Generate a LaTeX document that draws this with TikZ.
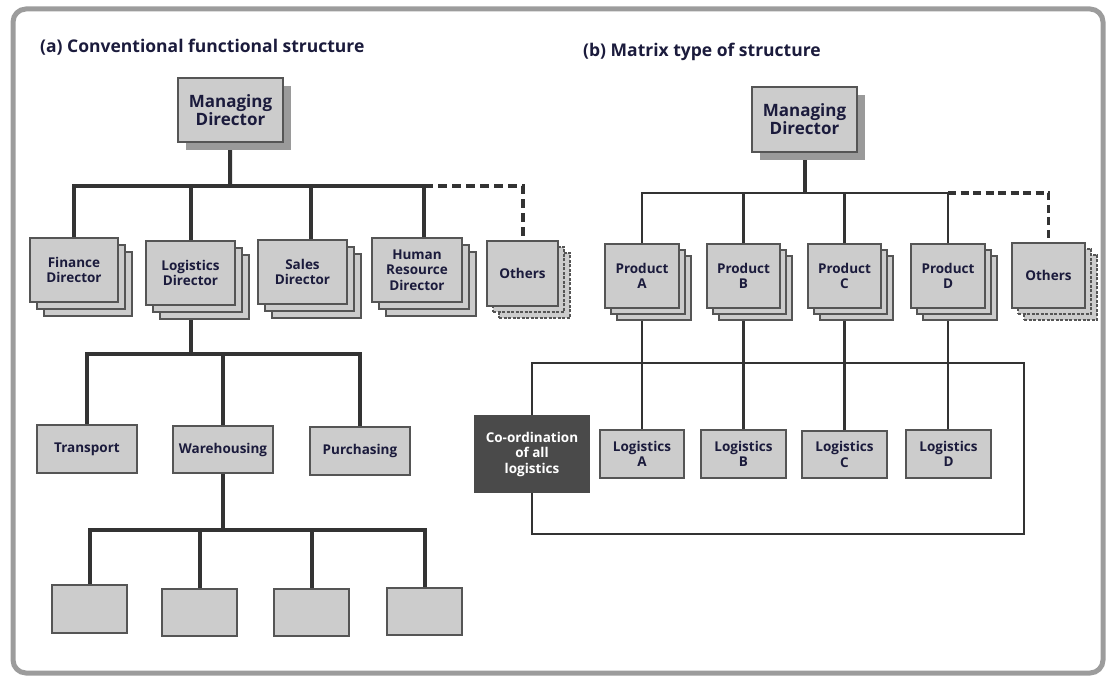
\documentclass[tikz,border=0pt]{standalone}
\usepackage{fontspec}
\setmainfont{Open Sans}
\usetikzlibrary{backgrounds}

\definecolor{boxfill}{HTML}{CCCCCC}
\definecolor{boxline}{HTML}{555555}
\definecolor{wire}{HTML}{333333}
\definecolor{ink}{HTML}{1B1B3C}
\definecolor{shade}{HTML}{9A9A9A}
\definecolor{darkbox}{HTML}{4A4A4A}
\definecolor{framegray}{HTML}{9C9C9C}

\tikzset{
  card/.style={draw=boxline, fill=boxfill, line width=1.1pt, inner sep=0pt,
    align=center, text=ink, font=\bfseries\fontsize{13.5}{15.5}\selectfont},
  ghostcard/.style={card, dashed, dash pattern=on 3pt off 1.5pt},
  bigcard/.style={card, font=\bfseries\fontsize{17}{15.5}\selectfont},
  darkcard/.style={card, fill=darkbox, draw=darkbox, text=white},
  shadowbox/.style={fill=shade, draw=none, inner sep=0pt},
  heading/.style={anchor=west, inner sep=0pt, text=ink,
    font=\bfseries\fontsize{17.5}{20}\selectfont},
  thickwire/.style={draw=wire, line width=4pt, line cap=butt, line join=miter},
  thinwire/.style={draw=wire, line width=2.6pt, line cap=butt, line join=miter},
  thickdash/.style={thickwire, dash pattern=on 9pt off 5pt},
  thindash/.style={draw=wire, line width=3.4pt, line join=miter, dash pattern=on 8pt off 4.5pt},
}

% box given by its corners: style, name, x1, y1, x2, y2, text
\newcommand\boxat[7]{%
  \node[#1, minimum width={((#5)-(#3))*1pt}, minimum height={((#6)-(#4))*1pt}]
    (#2) at ({((#3)+(#5))/2},{((#4)+(#6))/2}) {#7};}

% box with two sheets stacked behind it: sheet style, name, x1, y1, x2, y2, step, text
\newcommand\stackat[8]{%
  \boxat{#1}{#2-c}{#3+2*#7}{#4+2*#7}{#5+2*#7}{#6+2*#7}{}%
  \boxat{#1}{#2-b}{#3+#7}{#4+#7}{#5+#7}{#6+#7}{}%
  \boxat{card}{#2}{#3}{#4}{#5}{#6}{#8}}

\begin{document}
\begin{tikzpicture}[x=1pt, y=-1pt]
\useasboundingbox (0,0) rectangle (1112,679);
\draw[framegray, line width=5pt, rounded corners=13pt] (13,9) rectangle (1103,673);

% ---------- (a) functional structure ----------
\node[heading] (titleA) at (40,47) {(a) Conventional functional structure};

\boxat{shadowbox}{mdL-shadow}{186}{86}{291}{150}{}
\boxat{bigcard}{mdL}{178}{78}{283}{142}{Managing\\Director}

\stackat{card}{fin}{30}{238}{118}{302}{7}{Finance\\Director}
\stackat{card}{logd}{146}{241}{235}{305}{7}{Logistics\\Director}
\stackat{card}{sales}{258}{240}{347}{304}{7}{Sales\\Director}
\stackat{card}{hr}{372}{238}{462}{302}{7}{Human\\Resource\\Director}
\stackat{ghostcard}{othL}{487}{241}{558}{306}{6}{Others}

\boxat{card}{trans}{37}{425}{137}{473}{Transport}
\boxat{card}{ware}{173}{426}{273}{473}{Warehousing}
\boxat{card}{purch}{310}{427}{410}{475}{Purchasing}

\boxat{card}{w1}{52}{585}{127}{633}{}
\boxat{card}{w2}{162}{589}{237}{636}{}
\boxat{card}{w3}{274}{589}{349}{636}{}
\boxat{card}{w4}{387}{588}{462}{635}{}

\coordinate (jL) at (230,186);
\coordinate (salesTop) at ([xshift=8pt]sales.north);
\coordinate (hrTop) at ([xshift=7pt]hr.north);
\coordinate (jLog) at (190.5,354);
\coordinate (jWare) at (223,530);

% ---------- (b) matrix structure ----------
\node[heading] (titleB) at (583,52) {(b) Matrix type of structure};

\boxat{shadowbox}{mdR-shadow}{760}{95}{865}{160}{}
\boxat{bigcard}{mdR}{752}{87}{857}{152}{Managing\\Director}

\stackat{card}{pA}{605}{244}{679}{308}{6}{Product\\A}
\stackat{card}{pB}{707}{244}{780}{308}{6}{Product\\B}
\stackat{card}{pC}{808}{244}{881}{308}{6}{Product\\C}
\stackat{card}{pD}{911}{244}{985}{308}{6}{Product\\D}
\stackat{ghostcard}{othR}{1012}{243}{1085}{308}{6}{Others}

\boxat{darkcard}{coord}{475}{416}{589}{492}{Co-ordination\\of all\\logistics}
\boxat{card}{lA}{600}{430}{684}{478}{Logistics\\A}
\boxat{card}{lB}{701}{430}{786}{478}{Logistics\\B}
\boxat{card}{lC}{802}{431}{887}{478}{Logistics\\C}
\boxat{card}{lD}{906}{430}{991}{478}{Logistics\\D}

\coordinate (jR) at (804.5,193);
\coordinate (loopNE) at (1024,363);
\coordinate (loopSE) at (1024,534);

% ---------- connectors ----------
\begin{scope}[on background layer]
  % (a)
  \draw[thickwire] (mdL) -- (jL);
  \draw[thickwire] (fin.north) |- (hrTop |- jL) -- (hrTop);
  \draw[thickwire] (logd.north) -- (logd.north |- jL);
  \draw[thickwire] (salesTop) -- (salesTop |- jL);
  \draw[thickdash] (hrTop |- jL) -| (othL.north);
  \draw[thickwire] (logd.south) -- (jLog);
  \draw[thickwire] (trans.north) |- (purch.north |- jLog) -- (purch.north);
  \draw[thickwire] (ware.north) -- (ware.north |- jLog);
  \draw[thickwire] (ware.south) -- (jWare);
  \draw[thickwire] (w1.north) |- (w4.north |- jWare) -- (w4.north);
  \draw[thickwire] (w2.north) -- (w2.north |- jWare);
  \draw[thickwire] (w3.north) -- (w3.north |- jWare);
  % (b)
  \draw[thickwire] (mdR) -- (jR);
  \draw[thinwire] (pA.north) |- (pD.north |- jR) -- (pD.north);
  \draw[thinwire] (pB.north) -- (pB.north |- jR);
  \draw[thinwire] (pC.north) -- (pC.north |- jR);
  \draw[thindash] (pD.north |- jR) -| (othR.north);
  \draw[thinwire] (pA.south) -- (pA.south |- lA.north);
  \draw[thinwire] (pB.south) -- (pB.south |- lB.north);
  \draw[thinwire] (pC.south) -- (pC.south |- lC.north);
  \draw[thinwire] (pD.south) -- (pD.south |- lD.north);
  \draw[thinwire] (coord.north) |- (loopNE) -- (loopSE) -| (coord.south);
\end{scope}
\end{tikzpicture}
\end{document}
